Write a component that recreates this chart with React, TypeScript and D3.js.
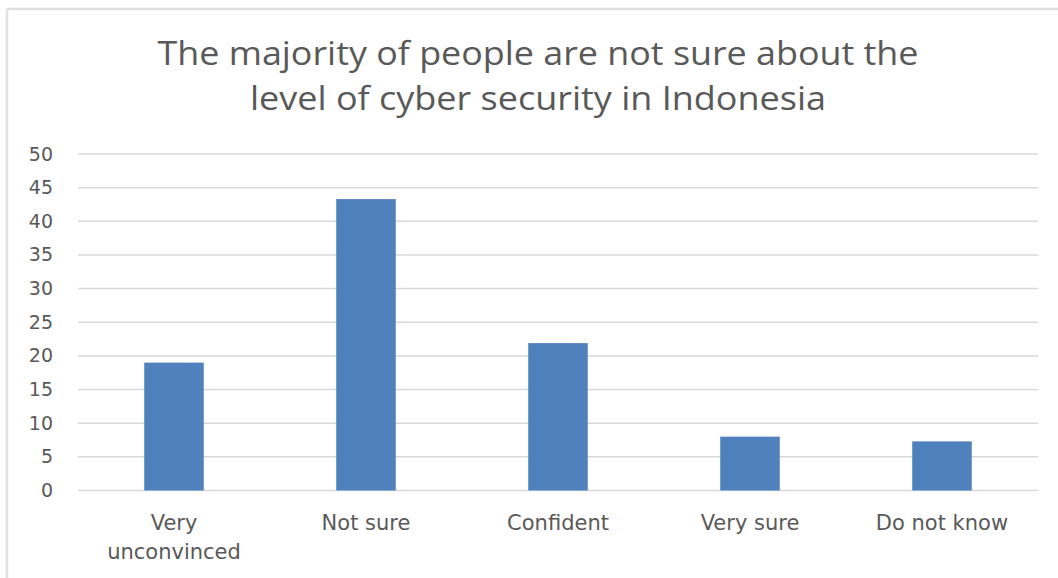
import React from "react";
import * as d3 from "d3";

const categories = ["Very unconvinced", "Not sure", "Confident", "Very sure", "Do not know"];
const categoryLines = [["Very", "unconvinced"], ["Not sure"], ["Confident"], ["Very sure"], ["Do not know"]];
const values = [19, 43.3, 21.9, 8, 7.3];
const yTicks = [0, 5, 10, 15, 20, 25, 30, 35, 40, 45, 50];
const titleLines = ["The majority of people are not sure about the", "level of cyber security in Indonesia"];
const titleWidths = [761, 576];

export default function App() {
  const W = 1058, H = 578;
  const left = 78, right = 1038, top = 154, bottom = 490.5;
  const x = d3.scaleBand<string>().domain(categories).range([left, right]).paddingInner(0.69).paddingOuter(0.345);
  const y = d3.scaleLinear().domain([0, 50]).range([bottom, top]);
  const textColor = "#595959";
  return (
    <svg width={W} height={H} style={{ position: "absolute", left: 0, top: 0, background: "#fff" }}>
      <rect x={0} y={0} width={W} height={H} fill="#fff" />
      <line x1={7} x2={W} y1={9} y2={9} stroke="#e0e0e0" strokeWidth={2.5} />
      <line x1={7} x2={7} y1={9} y2={H} stroke="#e0e0e0" strokeWidth={2.5} />
      {titleLines.map((t, i) => (
        <text key={i} x={538} y={65 + i * 45} textAnchor="middle" fontFamily="'Open Sans', sans-serif" fontSize={33}
          fill={textColor} textLength={titleWidths[i]} lengthAdjust="spacingAndGlyphs">
          {t}
        </text>
      ))}
      {yTicks.map((t) => (
        <g key={t}>
          <line x1={left} x2={right} y1={y(t)} y2={y(t)} stroke="#d9d9d9" strokeWidth={1.5} />
          <text x={53} y={y(t) + 6.5} textAnchor="end" fontFamily="'DejaVu Sans', sans-serif" fontSize={19} fill={textColor}>
            {t}
          </text>
        </g>
      ))}
      {categories.map((c, i) => (
        <rect key={c} x={x(c)} y={y(values[i])} width={x.bandwidth()} height={y(0) - y(values[i])} fill="#4f81bd" />
      ))}
      {categories.map((c, i) => (
        <text key={c} textAnchor="middle" fontFamily="'DejaVu Sans', sans-serif" fontSize={21} fill={textColor}>
          {categoryLines[i].map((l, j) => (
            <tspan key={j} x={(x(c) as number) + x.bandwidth() / 2} y={529.5 + j * 29}>
              {l}
            </tspan>
          ))}
        </text>
      ))}
    </svg>
  );
}
